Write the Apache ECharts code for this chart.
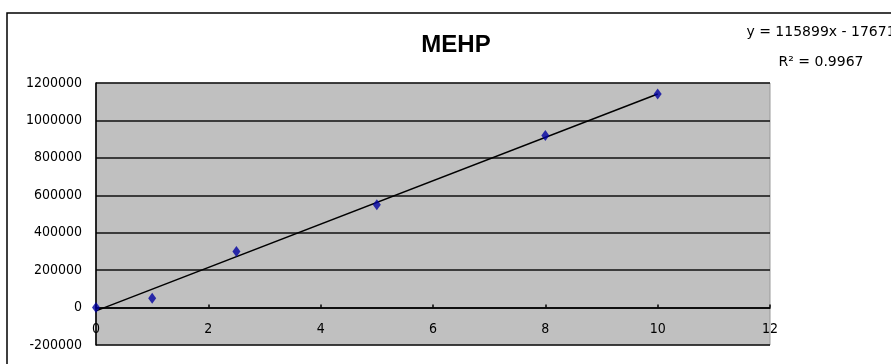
<!DOCTYPE html>
<html>
<head>
<meta charset="utf-8">
<title>MEHP</title>
<script src="https://cdn.jsdelivr.net/npm/echarts@6/dist/echarts.min.js"></script>
<style>
  html, body { margin: 0; padding: 0; background: #ffffff; }
  #chart { width: 891px; height: 364px; }
</style>
</head>
<body>
<div id="chart"></div>
<script>
// Calibration points for MEHP (concentration vs. response)
const concentrations = [0, 1, 2.5, 5, 8, 10];
const responses = [0, 50000, 300000, 549000, 920000, 1141000];

// Linear trendline as stated in the equation label
const trendSlope = 115899;
const trendIntercept = -17671;
const trendRange = [0, 10];
const rSquared = '0.9967';

// Axis ranges and steps
const xTicks = { min: 0, max: 12, step: 2 };
const yTicks = { min: -200000, max: 1200000, step: 200000 };

const AXIS_FONT = 'DejaVu Sans Condensed, Liberation Sans, sans-serif';
const NOTE_FONT = 'DejaVu Sans, Liberation Sans, sans-serif';

const pointData = concentrations.map((x, i) => [x, responses[i]]);
const trendData = trendRange.map(x => [x, trendSlope * x + trendIntercept]);

const GRID = { left: 96, right: 121, top: 83, bottom: 19 };

const chart = echarts.init(document.getElementById('chart'), null, { renderer: 'canvas' });

function buildOption(xAxisOffset) {
  return {
    animation: false,
    backgroundColor: '#ffffff',
    title: {
      text: 'MEHP',
      left: 451,
      top: 28,
      textAlign: 'center',
      textStyle: { fontFamily: 'Liberation Sans, Arial, sans-serif', fontSize: 24, fontWeight: 'bold', color: '#000' }
    },
    grid: Object.assign({
      show: true,
      backgroundColor: '#c0c0c0',
      borderColor: '#9a9a9a',
      borderWidth: 1,
      outerBoundsMode: 'none',
      containLabel: false
    }, GRID),
    xAxis: {
      type: 'value',
      min: xTicks.min, max: xTicks.max, interval: xTicks.step,
      // axis drawn along the zero line of the value axis
      offset: xAxisOffset,
      axisLine: { onZero: false, lineStyle: { color: '#000', width: 1.6 } },
      axisTick: { show: true, inside: true, length: 3, lineStyle: { color: '#000', width: 1.5 } },
      axisLabel: { margin: 15, fontFamily: AXIS_FONT, fontSize: 14, color: '#000' },
      splitLine: { show: false }
    },
    yAxis: {
      type: 'value',
      min: yTicks.min, max: yTicks.max, interval: yTicks.step,
      axisLine: { show: true, onZero: false, lineStyle: { color: '#000', width: 1.6 } },
      axisTick: { show: false },
      axisLabel: {
        margin: 14, fontFamily: AXIS_FONT, fontSize: 14, color: '#000',
        formatter: v => String(v)
      },
      splitLine: { show: true, lineStyle: { color: '#111', width: 1.6 } }
    },
    series: [
      {
        name: 'trend',
        type: 'line',
        data: trendData,
        symbol: 'none',
        lineStyle: { color: '#000', width: 1.5 },
        silent: true,
        z: 3
      },
      {
        name: 'MEHP',
        type: 'scatter',
        data: pointData,
        symbol: 'diamond',
        symbolSize: [8, 11],
        itemStyle: { color: '#0000a0' },
        z: 4
      }
    ],
    graphic: [
      {
        type: 'rect',
        shape: { x: 7, y: 13, width: 1000, height: 500 },
        style: { fill: 'none', stroke: '#000', lineWidth: 1.5 },
        silent: true,
        z: 10
      },
      {
        type: 'text',
        x: 821, y: 32,
        style: {
          text: 'y = ' + trendSlope + 'x - ' + Math.abs(trendIntercept),
          fontFamily: NOTE_FONT, fontSize: 14, fill: '#000',
          align: 'center', verticalAlign: 'middle'
        },
        z: 10
      },
      {
        type: 'text',
        x: 821, y: 62,
        style: {
          text: 'R² = ' + rSquared,
          fontFamily: NOTE_FONT, fontSize: 14, fill: '#000',
          align: 'center', verticalAlign: 'middle'
        },
        z: 10
      }
    ]
  };
}

// First pass to get the scale, then lift the x axis onto y = 0
chart.setOption(buildOption(0));
const bottomPx = chart.convertToPixel({ yAxisIndex: 0 }, yTicks.min);
const zeroPx = chart.convertToPixel({ yAxisIndex: 0 }, 0);
chart.setOption(buildOption(-(bottomPx - zeroPx)));
</script>
</body>
</html>
